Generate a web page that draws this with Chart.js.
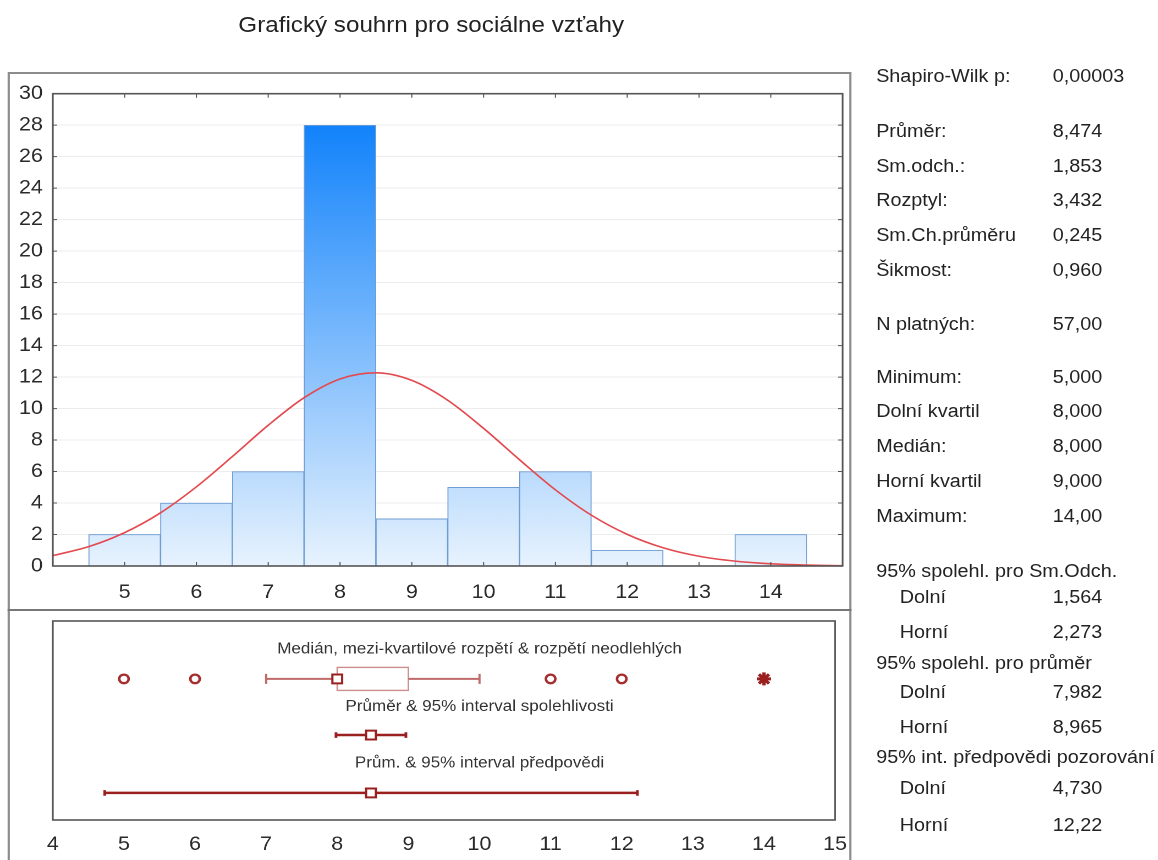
<!DOCTYPE html>
<html lang="cs">
<head>
<meta charset="utf-8">
<title>Grafický souhrn pro sociálne vzťahy</title>
<script src="https://cdn.jsdelivr.net/npm/chart.js@4.4.1/dist/chart.umd.min.js"></script>
<style>
  html, body { margin: 0; padding: 0; background: #fff; width: 1158px; height: 860px; overflow: hidden; }
  /* the whole sheet uses slightly widened Arial-like lettering */
  #page { position: absolute; left: 0; top: 0; width: 1053px; height: 860px;
          transform: scaleX(1.1); transform-origin: 0 0;
          font-family: "Liberation Sans", Arial, sans-serif; color: #222; }
  #title { position: absolute; left: 0; width: 784px; top: 10px; line-height: 30px;
           font-size: 22px; text-align: center; color: #222; }
  #frame { position: absolute; left: 7px; top: 72px; width: 767px; height: 800px;
           border: 2px solid #8c8c8c; box-sizing: border-box; }
  #sep { position: absolute; left: 7px; top: 609px; width: 767px; height: 2px; background: #777; }
  canvas { position: absolute; display: block; }
  .st { position: absolute; font-size: 18px; line-height: 22px; white-space: nowrap; color: #222; }
</style>
</head>
<body>
<div id="page">
  <div id="title">Grafický souhrn pro sociálne vzťahy</div>
  <div id="frame"></div>
  <div id="sep"></div>
  <canvas id="hist" width="767" height="537" style="left:8px;top:73px;width:767px;height:537px"></canvas>
  <canvas id="box" width="767" height="249" style="left:8px;top:611px;width:767px;height:249px"></canvas>
  <div id="stats"></div>
</div>
<script>
// ---- histogram: class centres and frequencies ----
const binCenters = [5, 6, 7, 8, 9, 10, 11, 12, 13, 14];
const binCounts  = [2, 4, 6, 28, 3, 5, 6, 1, 0, 2];

// ---- fitted normal curve (expected frequencies) ----
const curveX = [4, 4.5, 5, 5.5, 6, 6.5, 7, 7.5, 8, 8.5, 9, 9.5, 10, 10.5, 11, 11.5, 12, 12.5, 13, 13.5, 14, 14.5, 15];
const curveY = [0.66, 1.23, 2.12, 3.38, 5.03, 6.95, 8.94, 10.69, 11.88, 12.27, 11.79, 10.53, 8.74, 6.75, 4.84, 3.23, 2.01, 1.16, 0.62, 0.31, 0.14, 0.06, 0.02];

// ---- tick labels ----
const histXTicks = [5, 6, 7, 8, 9, 10, 11, 12, 13, 14];
const boxXTicks  = [4, 5, 6, 7, 8, 9, 10, 11, 12, 13, 14, 15];

// ---- box plot & intervals ----
const boxWhiskers   = [7, 10];          // range of non-outliers
const boxQuartiles  = [8, 9];           // lower / upper quartile
const boxMedian     = [8];
const outlierValues = [5, 6, 11, 12];
const extremeValues = [14];
const meanValue     = [8.474];
const meanCI        = [7.982, 8.965];
const predInterval  = [4.730, 12.22];

// ---- summary statistics panel ----
const statNames  = ["Shapiro-Wilk p:", "Průměr:", "Sm.odch.:", "Rozptyl:", "Sm.Ch.průměru", "Šikmost:",
                    "N platných:", "Minimum:", "Dolní kvartil", "Medián:", "Horní kvartil", "Maximum:",
                    "95% spolehl. pro Sm.Odch.", "Dolní", "Horní",
                    "95% spolehl. pro průměr", "Dolní", "Horní",
                    "95% int. předpovědi pozorování", "Dolní", "Horní"];
const statValues = ["0,00003", "8,474", "1,853", "3,432", "0,245", "0,960",
                    "57,00", "5,000", "8,000", "8,000", "9,000", "14,00",
                    "", "1,564", "2,273",
                    "", "7,982", "8,965",
                    "", "4,730", "12,22"];
const statIndented = [13, 14, 16, 17, 19, 20];

// layout of the statistics column (vertical centre of each row)
const statRowY = [76, 131, 166, 200, 235, 270, 324, 377, 411, 446, 481, 516, 571, 597, 632, 663, 692, 727, 757, 788, 825];

const statsBox = document.getElementById('stats');
statNames.forEach((name, i) => {
  const top = statRowY[i] - 11;
  const lab = document.createElement('div');
  lab.className = 'st';
  lab.style.left = (statIndented.includes(i) ? 818 : 796.5) + 'px';
  lab.style.top = top + 'px';
  lab.textContent = name;
  statsBox.appendChild(lab);
  if (statValues[i]) {
    const val = document.createElement('div');
    val.className = 'st';
    val.style.left = '957px';
    val.style.top = top + 'px';
    val.textContent = statValues[i];
    statsBox.appendChild(val);
  }
});

const FONT = '"Liberation Sans", Arial, sans-serif';
const tickFont = { family: FONT, size: 19.5 };
const tickColor = '#2a2a2a';

// vertical gradient over the whole value range, dark at the top
function barGradient(ctx) {
  const chart = ctx.chart;
  if (!chart.chartArea) return '#b8dcfb';
  const y = chart.scales.y;
  const g = chart.ctx.createLinearGradient(0, y.getPixelForValue(Math.max(...binCounts)), 0, y.getPixelForValue(0));
  g.addColorStop(0, '#1283fb');
  g.addColorStop(1, '#e8f3fe');
  return g;
}

// frame of the plot area with inward tick marks on all four sides
const histFrame = {
  id: 'histFrame',
  afterDatasetsDraw(chart) {
    const { ctx, chartArea: a, scales: { x, y } } = chart;
    ctx.save();
    ctx.strokeStyle = '#555';
    ctx.lineWidth = 1;
    ctx.beginPath();
    histXTicks.forEach(v => {
      const px = x.getPixelForValue(v);
      ctx.moveTo(px, a.top); ctx.lineTo(px, a.top + 4);
      ctx.moveTo(px, a.bottom); ctx.lineTo(px, a.bottom - 4);
    });
    y.ticks.forEach(t => {
      const py = y.getPixelForValue(t.value);
      ctx.moveTo(a.left, py); ctx.lineTo(a.left + 4, py);
      ctx.moveTo(a.right, py); ctx.lineTo(a.right - 4, py);
    });
    ctx.stroke();
    ctx.lineWidth = 1.6;
    ctx.strokeRect(a.left, a.top, a.right - a.left, a.bottom - a.top);
    ctx.restore();
  }
};

new Chart(document.getElementById('hist'), {
  type: 'bar',
  data: {
    datasets: [
      {
        type: 'line',
        data: curveX.map((x, i) => ({ x, y: curveY[i] })),
        borderColor: '#e34a4f',
        borderWidth: 1.6,
        pointRadius: 0,
        cubicInterpolationMode: 'monotone',
        order: 0
      },
      {
        type: 'bar',
        data: binCenters.map((x, i) => ({ x, y: binCounts[i] })),
        backgroundColor: barGradient,
        borderColor: '#6f9dd3',
        borderWidth: c => (c.raw && c.raw.y > 0 ? 1 : 0),
        barPercentage: 1,
        categoryPercentage: 1,
        order: 1
      }
    ]
  },
  options: {
    responsive: false,
    devicePixelRatio: 2,
    animation: false,
    layout: { padding: { top: 20, right: 9, left: 0, bottom: 0 } },
    plugins: { legend: { display: false }, tooltip: { enabled: false } },
    scales: {
      x: {
        type: 'linear', min: 4, max: 15, offset: false,
        grid: { display: false }, border: { display: false },
        ticks: {
          stepSize: 1, autoSkip: false, maxRotation: 0, padding: 7,
          font: tickFont, color: tickColor,
          callback: v => (histXTicks.includes(v) ? String(v) : '')
        },
        afterFit: s => { s.height = 44; }
      },
      y: {
        min: 0, max: 30,
        grid: { color: '#ededed', drawTicks: false, lineWidth: 1 },
        border: { display: false },
        ticks: { stepSize: 2, padding: 9, font: tickFont, color: tickColor },
        afterFit: s => { s.width = 40; }
      }
    }
  },
  plugins: [histFrame]
});

// ---- lower panel ----
// vertical levels of the three rows and their captions (0..100 panel units)
const rowLevel   = [70.9, 42.7, 13.6];
const titleLevel = [85.9, 56.8, 28.6];
const rowTitles  = ['Medián, mezi-kvartilové rozpětí & rozpětí neodlehlých',
                    'Průměr & 95% interval spolehlivosti',
                    'Prům. & 95% interval předpovědi'];

const DARK = '#9a1f1f';
const LIGHT = '#c06a6a';

const boxPanel = {
  id: 'boxPanel',
  beforeDatasetsDraw(chart) {
    const { ctx, chartArea: a, scales: { x, y } } = chart;
    ctx.save();
    // captions
    ctx.fillStyle = '#333';
    ctx.font = '15.5px ' + FONT;
    ctx.textAlign = 'center';
    ctx.textBaseline = 'middle';
    const cx = a.left + 0.5455 * (a.right - a.left);
    rowTitles.forEach((t, i) => ctx.fillText(t, cx, y.getPixelForValue(titleLevel[i])));
    // interquartile box
    const x0 = x.getPixelForValue(boxQuartiles[0]);
    const x1 = x.getPixelForValue(boxQuartiles[1]);
    const yc = y.getPixelForValue(rowLevel[0]);
    ctx.fillStyle = '#fff';
    ctx.strokeStyle = '#cc8f8f';
    ctx.lineWidth = 1.4;
    ctx.fillRect(x0, yc - 11.5, x1 - x0, 23);
    ctx.strokeRect(x0, yc - 11.5, x1 - x0, 23);
    ctx.restore();
  },
  afterDraw(chart) {
    const { ctx, chartArea: a } = chart;
    ctx.save();
    ctx.strokeStyle = '#555';
    ctx.lineWidth = 1.6;
    ctx.strokeRect(a.left, a.top, a.right - a.left, a.bottom - a.top);
    ctx.restore();
  }
};

const capRadius = (first, last, r) => c => ((c.dataIndex === 0 && first) || (c.dataIndex === 1 && last) ? r : 0);

new Chart(document.getElementById('box'), {
  type: 'scatter',
  data: {
    datasets: [
      // markers (drawn on top)
      { data: boxMedian.map(v => ({ x: v, y: rowLevel[0] })), pointStyle: 'rect', pointRadius: 6.3,
        backgroundColor: '#fff', borderColor: DARK, borderWidth: 2, order: 0 },
      { data: meanValue.map(v => ({ x: v, y: rowLevel[1] })), pointStyle: 'rect', pointRadius: 6.3,
        backgroundColor: '#fff', borderColor: DARK, borderWidth: 2, order: 0 },
      { data: meanValue.map(v => ({ x: v, y: rowLevel[2] })), pointStyle: 'rect', pointRadius: 6.3,
        backgroundColor: '#fff', borderColor: DARK, borderWidth: 2, order: 0 },
      { data: outlierValues.map(v => ({ x: v, y: rowLevel[0] })), pointStyle: 'circle', pointRadius: 4.3,
        backgroundColor: '#fff', borderColor: '#a52d2d', borderWidth: 2.3, order: 0 },
      { data: extremeValues.map(v => ({ x: v, y: rowLevel[0] })), pointStyle: 'star', pointRadius: 6.5,
        backgroundColor: DARK, borderColor: DARK, borderWidth: 3, order: 0 },
      // whiskers of the box plot
      { data: [{ x: boxWhiskers[0], y: rowLevel[0] }, { x: boxQuartiles[0], y: rowLevel[0] }],
        showLine: true, borderColor: LIGHT, borderWidth: 2,
        pointStyle: 'line', rotation: 90, pointRadius: capRadius(true, false, 5),
        pointBorderColor: LIGHT, pointBorderWidth: 2, order: 1 },
      { data: [{ x: boxQuartiles[1], y: rowLevel[0] }, { x: boxWhiskers[1], y: rowLevel[0] }],
        showLine: true, borderColor: LIGHT, borderWidth: 2,
        pointStyle: 'line', rotation: 90, pointRadius: capRadius(false, true, 5),
        pointBorderColor: LIGHT, pointBorderWidth: 2, order: 1 },
      // confidence interval of the mean
      { data: meanCI.map(v => ({ x: v, y: rowLevel[1] })),
        showLine: true, borderColor: DARK, borderWidth: 2.5,
        pointStyle: 'line', rotation: 90, pointRadius: 2.8,
        pointBorderColor: DARK, pointBorderWidth: 2.5, order: 1 },
      // prediction interval
      { data: predInterval.map(v => ({ x: v, y: rowLevel[2] })),
        showLine: true, borderColor: DARK, borderWidth: 2.5,
        pointStyle: 'line', rotation: 90, pointRadius: 2.8,
        pointBorderColor: DARK, pointBorderWidth: 2.5, order: 1 }
    ]
  },
  options: {
    responsive: false,
    devicePixelRatio: 2,
    animation: false,
    layout: { padding: { top: 10, right: 8.5, left: 40, bottom: 0 } },
    plugins: { legend: { display: false }, tooltip: { enabled: false } },
    scales: {
      x: {
        type: 'linear', min: 4, max: 15,
        grid: { display: false }, border: { display: false },
        ticks: {
          stepSize: 1, autoSkip: false, maxRotation: 0, padding: 5,
          font: tickFont, color: tickColor,
          callback: v => (boxXTicks.includes(v) ? String(v) : '')
        },
        afterFit: s => { s.height = 40; }
      },
      y: { display: false, min: 0, max: 100 }
    }
  },
  plugins: [boxPanel]
});
</script>
</body>
</html>
